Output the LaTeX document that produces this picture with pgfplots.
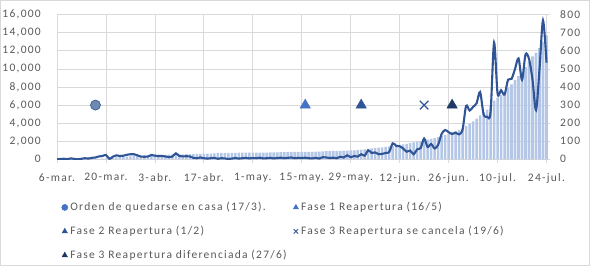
\documentclass[border=0pt]{standalone}
\usepackage{fontspec}
\usepackage{pgfplots}
\pgfplotsset{compat=1.18}
\newfontfamily\lfont{Carlito}[LetterSpace=11]
\definecolor{barblue}{HTML}{B4C7E7}
\definecolor{lineblue}{HTML}{2F5597}
\definecolor{gridc}{HTML}{D9D9D9}
\definecolor{txt}{HTML}{595959}
\definecolor{fA}{HTML}{4472C4}
\definecolor{fB}{HTML}{2F5597}
\definecolor{fC}{HTML}{203864}
\definecolor{circfill}{HTML}{6F8AB0}
\definecolor{circdraw}{HTML}{41659A}
\newcommand\cf{\lfont\fontsize{11.5bp}{14bp}\selectfont}
\pgfplotsset{
  legmark/.style={legend image code/.code={\draw[##1, mark size=3.1bp] plot[only marks] coordinates {(0bp,0bp)};}},
}
\begin{document}
\begin{tikzpicture}
\draw[gridc, line width=0.8bp] (0.4bp,0.4bp) rectangle (589.6bp,265.6bp);
\path[use as bounding box] (0bp,0bp) rectangle (590bp,266bp);
\begin{axis}[
  at={(57bp,106.7bp)}, anchor=south west,
  scale only axis, width=493bp, height=144.6bp,
  xmin=0, xmax=141, ymin=0, ymax=16000,
  xtick={0,14,...,140},
  xticklabels={6-mar.,20-mar.,3-abr.,17-abr.,1-may.,15-may.,29-may.,12-jun.,26-jun.,10-jul.,24-jul.},
  ytick={0,2000,...,16000},
  scaled y ticks=false,
  /pgf/number format/fixed, /pgf/number format/1000 sep={,}, /pgf/number format/assume math mode=true,
  tick label style={font=\cf, text=txt},
  yticklabel style={inner sep=0pt, xshift=-12bp},
  xticklabel style={inner sep=0pt, yshift=-10bp},
  grid=major, grid style={gridc, line width=0.75bp},
  axis x line*=bottom, axis y line*=left,
  x axis line style={gridc, line width=0.75bp},
  y axis line style={draw=none},
  xtick style={gridc, line width=0.75bp}, ytick style={draw=none},
  tick align=outside, major tick length=4bp,
  legend columns=2,
  legend cell align=left,
  legend style={at={(axis description cs:0.0091,-0.28)}, anchor=north west,
    draw=none, fill=none, font=\cf, text=txt, inner sep=0pt,
    row sep=9bp,
    nodes={inner sep=2.5bp},
    /tikz/every even column/.append style={column sep=4bp}},
]
\addplot[ybar, bar width=2.6bp, fill=barblue, draw=none, forget plot] table[x=d, y=v] {
d v
0 0
1 0
2 0
3 0
4 0
5 0
6 5
7 10
8 15
9 20
10 30
11 40
12 60
13 80
14 100
15 130
16 170
17 200
18 230
19 260
20 300
21 330
22 360
23 390
24 410
25 430
26 450
27 460
28 470
29 480
30 490
31 500
32 510
33 520
34 530
35 540
36 550
37 560
38 570
39 580
40 590
41 600
42 610
43 620
44 630
45 650
46 700
47 710
48 710
49 720
50 720
51 720
52 730
53 730
54 730
55 740
56 740
57 740
58 750
59 750
60 750
61 760
62 760
63 770
64 790
65 800
66 800
67 810
68 810
69 810
70 820
71 820
72 830
73 830
74 840
75 860
76 880
77 900
78 910
79 920
80 930
81 940
82 950
83 960
84 990
85 1000
86 1030
87 1060
88 1100
89 1150
90 1200
91 1250
92 1290
93 1330
94 1380
95 1430
96 1490
97 1550
98 1600
99 1650
100 1720
101 1800
102 1880
103 1950
104 2020
105 2100
106 2180
107 2260
108 2350
109 2450
110 2600
111 2700
112 2850
113 3000
114 3150
115 3250
116 3450
117 3700
118 3950
119 4200
120 4500
121 4850
122 5200
123 5500
124 6000
125 6500
126 6800
127 7100
128 7400
129 7900
130 8300
131 8800
132 9200
133 9600
134 10200
135 10800
136 11400
137 11800
138 12300
139 13000
140 13700
};
\addplot[only marks, mark=*, mark size=5bp, mark options={fill=circfill, draw=circdraw, line width=0.8bp}, legmark, legend image post style={mark options={fill=fA, draw=fA}}] coordinates {(11,6000)};
\addlegendentry{Orden de quedarse en casa (17/3).}
\addplot[only marks, mark=triangle*, mark size=6bp, mark options={fill=fA, draw=fA}, legmark] coordinates {(71,6000)};
\addlegendentry{Fase 1 Reapertura (16/5)}
\addplot[only marks, mark=triangle*, mark size=6bp, mark options={fill=fB, draw=fB}, legmark] coordinates {(87,6000)};
\addlegendentry{Fase 2 Reapertura (1/2)}
\addplot[only marks, mark=x, mark size=6bp, mark options={draw=fB, line width=1.3bp}, legmark, legend image post style={mark options={draw=fB, line width=0.8bp}}] coordinates {(105,6000)};
\addlegendentry{Fase 3 Reapertura se cancela (19/6)}
\addplot[only marks, mark=triangle*, mark size=6bp, mark options={fill=fC, draw=fC}, legmark] coordinates {(113,6000)};
\addlegendentry{Fase 3 Reapertura diferenciada (27/6)}
\end{axis}
\begin{axis}[
  at={(57bp,106.7bp)}, anchor=south west,
  scale only axis, width=493bp, height=144.6bp,
  xmin=0, xmax=141, ymin=0, ymax=800,
  axis x line=none, axis y line*=right,
  y axis line style={draw=none}, ytick style={draw=none},
  ytick={0,100,...,800},
  /pgf/number format/assume math mode=true,
  yticklabel style={font=\cf, text=txt, inner sep=0pt, xshift=10bp},
]
\addplot[lineblue, line width=2.1bp, smooth, tension=0.5] table[x=d, y=v] {
d v
0 0
1 2
2 3
3 1
4 5
5 2
6 0
7 3
8 6
9 4
10 8
11 10
12 16
13 18
14 24
15 2
16 15
17 22
18 18
19 20
20 25
21 28
22 28
23 22
24 15
25 14
26 15
27 24
28 20
29 18
30 18
31 16
32 12
33 15
34 33
35 18
36 16
37 17
38 16
39 8
40 6
41 10
42 6
43 4
44 6
45 8
46 3
47 6
48 5
49 2
50 4
51 7
52 4
53 6
54 8
55 5
56 7
57 6
58 9
59 5
60 6
61 8
62 5
63 7
64 9
65 6
66 8
67 10
68 6
69 8
70 7
71 9
72 6
73 5
74 8
75 4
76 12
77 10
78 7
79 9
80 6
81 14
82 10
83 22
84 12
85 18
86 15
87 28
88 20
89 50
90 35
91 38
92 28
93 30
94 35
95 40
96 88
97 75
98 72
99 60
100 42
101 48
102 28
103 55
104 62
105 115
106 68
107 85
108 60
109 80
110 140
111 162
112 150
113 140
114 147
115 138
116 165
117 295
118 270
119 290
120 310
121 372
122 250
123 236
124 260
125 645
126 365
127 382
128 358
129 440
130 445
131 500
132 558
133 440
134 580
135 555
136 440
137 272
138 500
139 768
140 535
};
\end{axis}
\end{tikzpicture}
\end{document}
